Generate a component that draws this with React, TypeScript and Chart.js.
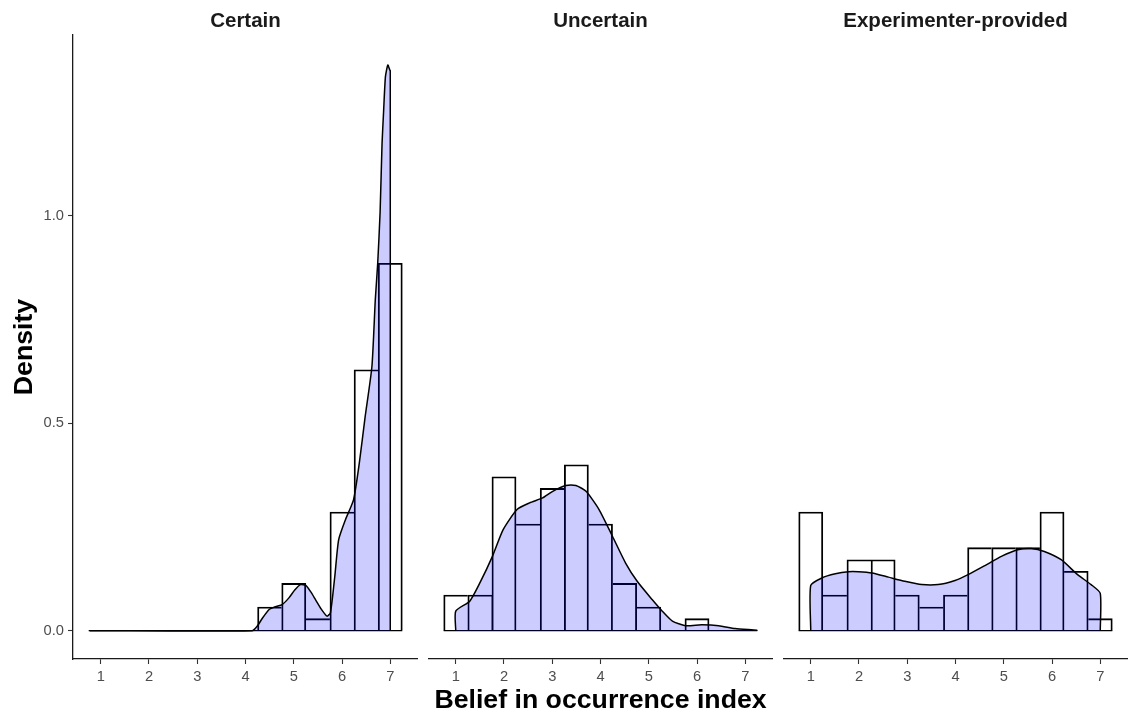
import React, { useEffect, useRef } from "react";
import { Chart, registerables } from "chart.js";

Chart.register(...registerables);

// ---------- data ----------
const panelTitles = ["Certain", "Uncertain", "Experimenter-provided"];
const binCenters = [1, 1.5, 2, 2.5, 3, 3.5, 4, 4.5, 5, 5.5, 6, 6.5, 7];
const binWidth = 0.5;
const xTickValues = [1, 2, 3, 4, 5, 6, 7];
const yTickValues = [0, 0.5, 1.0];
const xTitle = "Belief in occurrence index";
const yTitle = "Density";

const certainHist = [0, 0, 0, 0, 0, 0, 0, 0.057, 0.114, 0.029, 0.286, 0.629, 0.886];
const uncertainHist = [0.086, 0.086, 0.371, 0.257, 0.343, 0.4, 0.257, 0.114, 0.057, 0, 0.029, 0, 0];
const experimenterHist = [0.286, 0.086, 0.171, 0.171, 0.086, 0.057, 0.086, 0.2, 0.2, 0.2, 0.286, 0.143, 0.029];

const certainDensX = [0.77, 4.14, 4.25, 4.35, 4.49, 4.62, 4.76, 4.9, 5.02, 5.14, 5.25, 5.35, 5.45, 5.57, 5.69, 5.76, 5.85, 5.93, 6.07, 6.24, 6.36, 6.48, 6.62, 6.69, 6.74, 6.79, 6.83, 6.86, 6.9, 6.95, 6.99, 7.0, 7.0];
const certainDensY = [0, 0, 0.012, 0.03, 0.051, 0.058, 0.063, 0.079, 0.098, 0.111, 0.109, 0.094, 0.075, 0.052, 0.035, 0.043, 0.13, 0.219, 0.267, 0.316, 0.405, 0.516, 0.637, 0.798, 0.886, 1.01, 1.175, 1.247, 1.336, 1.364, 1.352, 1.35, 0];

const uncertainDensX = [1.0, 1.0, 1.29, 1.5, 1.76, 1.98, 2.27, 2.53, 2.8, 3.01, 3.28, 3.49, 3.7, 3.97, 4.25, 4.52, 4.76, 5.07, 5.28, 5.49, 5.76, 6.1, 6.45, 6.79, 7.24, 7.24];
const uncertainDensY = [0, 0.047, 0.071, 0.115, 0.179, 0.243, 0.292, 0.308, 0.32, 0.336, 0.35, 0.35, 0.336, 0.292, 0.227, 0.163, 0.119, 0.075, 0.047, 0.023, 0.012, 0.014, 0.012, 0.005, 0.001, 0];

const experimenterDensX = [1.0, 1.0, 1.23, 1.51, 1.78, 1.99, 2.27, 2.61, 2.95, 3.3, 3.64, 3.99, 4.26, 4.61, 4.95, 5.29, 5.57, 5.84, 6.19, 6.53, 6.81, 7.0, 7.0];
const experimenterDensY = [0, 0.109, 0.127, 0.137, 0.142, 0.142, 0.139, 0.129, 0.119, 0.111, 0.111, 0.121, 0.135, 0.157, 0.179, 0.195, 0.198, 0.191, 0.171, 0.135, 0.111, 0.09, 0];

const xMin = 0.425;
const xMax = 7.575;
const yMin = -0.0684;
const yMax = 1.4364;

const FONT = "'Liberation Sans', Arial, sans-serif";

type PanelSpec = {
  title: string;
  hist: number[];
  densX: number[];
  densY: number[];
  showY: boolean;
  showXTitle: boolean;
  left: number;
  width: number;
};

const panels: PanelSpec[] = [
  { title: panelTitles[0], hist: certainHist, densX: certainDensX, densY: certainDensY, showY: true, showXTitle: false, left: 0, width: 418 },
  { title: panelTitles[1], hist: uncertainHist, densX: uncertainDensX, densY: uncertainDensY, showY: false, showXTitle: true, left: 428, width: 345 },
  { title: panelTitles[2], hist: experimenterHist, densX: experimenterDensX, densY: experimenterDensY, showY: false, showXTitle: false, left: 783, width: 345 },
];

const HEIGHT = 717;

function makeConfig(p: PanelSpec): any {
  const stripPlugin = {
    id: "strip" + p.title,
    afterDraw(chart: any) {
      const { ctx, chartArea } = chart;
      ctx.save();
      ctx.font = `bold 20.5px ${FONT}`;
      ctx.fillStyle = "#1a1a1a";
      ctx.textAlign = "center";
      ctx.textBaseline = "alphabetic";
      ctx.fillText(p.title, (chartArea.left + chartArea.right) / 2, 27);
      ctx.restore();
    },
  };

  const hist = p.hist;
  const barBorder = (c: any) => {
    const i = c.dataIndex;
    const h = hist[i];
    const prev = i > 0 ? hist[i - 1] : 0;
    const next = i < hist.length - 1 ? hist[i + 1] : 0;
    return { top: 1.2, left: h >= prev ? 1.2 : 0, right: h > next ? 1.2 : 0, bottom: 0 };
  };

  return {
    type: "bar",
    data: {
      datasets: [
        {
          type: "line",
          label: "density",
          data: p.densX.map((x, i) => ({ x, y: p.densY[i] })),
          borderColor: "#000",
          borderWidth: 1.5,
          backgroundColor: "rgba(0,0,255,0.2)",
          fill: "origin",
          pointRadius: 0,
          tension: 0.2,
          order: 0,
        },
        {
          type: "line",
          label: "baseline",
          data: [
            { x: binCenters[0] - binWidth / 2, y: 0 },
            { x: binCenters[binCenters.length - 1] + binWidth / 2, y: 0 },
          ],
          borderColor: "#000",
          borderWidth: 1.2,
          pointRadius: 0,
          fill: false,
          order: 1,
        },
        {
          type: "bar",
          label: "histogram",
          data: binCenters.map((x, i) => ({ x, y: hist[i] })),
          backgroundColor: "rgba(0,0,0,0)",
          borderColor: "#000",
          borderSkipped: false,
          borderWidth: barBorder,
          barPercentage: 1,
          categoryPercentage: 1,
          order: 2,
        },
      ],
    },
    options: {
      animation: false,
      responsive: false,
      devicePixelRatio: 1,
      layout: { padding: { top: 35, left: 0, right: 0, bottom: 0 } },
      plugins: {
        legend: { display: false },
        tooltip: { enabled: false },
        title: { display: false },
      },
      scales: {
        x: {
          type: "linear",
          offset: false,
          min: xMin,
          max: xMax,
          afterBuildTicks: (s: any) => {
            s.ticks = xTickValues.map((v) => ({ value: v }));
          },
          afterFit: (s: any) => {
            s.height = 58;
          },
          grid: {
            display: true,
            offset: false,
            drawOnChartArea: false,
            drawTicks: true,
            tickLength: 5,
            color: "#333333",
            tickColor: "#333333",
            tickWidth: 1.1,
          },
          border: { display: true, color: "#1a1a1a", width: 1.3 },
          ticks: {
            color: "#4d4d4d",
            font: { size: 14.7, family: FONT },
            padding: 4,
            maxRotation: 0,
            autoSkip: false,
            callback: (v: any) => String(v),
          },
          title: {
            display: p.showXTitle,
            text: xTitle,
            color: "#000",
            font: { size: 26.7, weight: "bold", family: FONT },
            padding: { top: 0, bottom: 0 },
          },
        },
        y: {
          type: "linear",
          display: p.showY,
          min: yMin,
          max: yMax,
          afterBuildTicks: (s: any) => {
            s.ticks = yTickValues.map((v) => ({ value: v }));
          },
          ...(p.showY
            ? {
                afterFit: (s: any) => {
                  s.width = 73;
                },
              }
            : {}),
          grid: {
            display: true,
            drawOnChartArea: false,
            drawTicks: true,
            tickLength: 5,
            color: "#333333",
            tickColor: "#333333",
            tickWidth: 1.1,
          },
          border: { display: true, color: "#1a1a1a", width: 1.3 },
          ticks: {
            color: "#4d4d4d",
            font: { size: 14.7, family: FONT },
            padding: 4,
            autoSkip: false,
            callback: (v: any) => Number(v).toFixed(1),
          },
          title: {
            display: p.showY,
            text: yTitle,
            color: "#000",
            font: { size: 26.7, weight: "bold", family: FONT },
            padding: { top: 9, bottom: 0 },
          },
        },
      },
    },
    plugins: [stripPlugin],
  };
}

export default function App() {
  const r0 = useRef<HTMLCanvasElement>(null);
  const r1 = useRef<HTMLCanvasElement>(null);
  const r2 = useRef<HTMLCanvasElement>(null);

  useEffect(() => {
    Chart.defaults.font.family = FONT;
    const refs = [r0, r1, r2];
    const charts = refs.map((r, i) => new Chart(r.current as HTMLCanvasElement, makeConfig(panels[i])));
    return () => {
      charts.forEach((c) => c.destroy());
    };
  }, []);

  const refs = [r0, r1, r2];
  return (
    <div style={{ position: "absolute", left: 0, top: 0, width: 1131, height: HEIGHT, background: "#fff", overflow: "hidden" }}>
      {panels.map((p, i) => (
        <canvas
          key={p.title}
          ref={refs[i]}
          width={p.width}
          height={HEIGHT}
          style={{ position: "absolute", left: p.left, top: 0, width: p.width, height: HEIGHT }}
        />
      ))}
    </div>
  );
}
